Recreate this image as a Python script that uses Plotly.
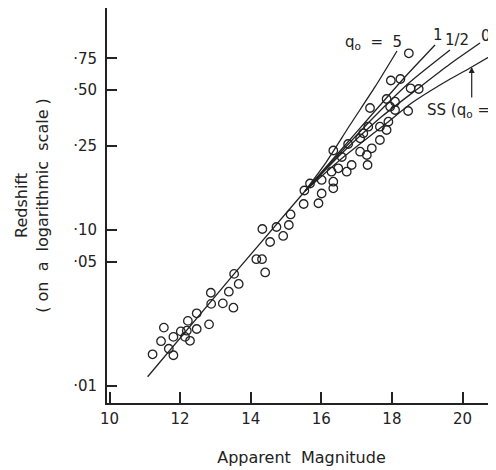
import math
import plotly.graph_objects as go

magnitude = [11.22, 11.46, 11.54, 11.68, 11.81, 11.81, 12.02, 12.14, 12.19, 12.22,
             12.28, 12.47, 12.47, 12.82, 12.87, 12.88, 13.21, 13.38, 13.51, 13.53,
             13.66, 14.16, 14.32, 14.41, 14.55, 14.33, 14.73, 14.92, 15.08, 15.13,
             15.50, 15.52, 15.68, 15.92, 16.01, 16.01, 16.29, 16.34, 16.34, 16.34,
             16.58, 16.76, 16.48, 16.72, 16.86, 17.10, 17.29, 17.43, 17.31, 17.10,
             17.33, 17.19, 17.66, 17.66, 17.85, 17.90, 17.38, 17.85, 18.09, 17.95,
             18.09, 18.46, 17.97, 18.24, 18.53, 18.76, 18.48]
redshift = [0.0159, 0.0189, 0.0226, 0.0171, 0.0157, 0.0200, 0.0215, 0.0200, 0.0217, 0.0247,
            0.0190, 0.0273, 0.0222, 0.0236, 0.0358, 0.0309, 0.0311, 0.0363, 0.0294, 0.0459,
            0.0402, 0.0557, 0.0557, 0.0468, 0.0699, 0.0830, 0.0852, 0.0757, 0.0875, 0.1005,
            0.1154, 0.1379, 0.1512, 0.1165, 0.1325, 0.1584, 0.1767, 0.1548, 0.1419, 0.2337,
            0.2145, 0.2545, 0.1848, 0.1767, 0.1930, 0.2300, 0.2202, 0.2405, 0.1930, 0.2745,
            0.3198, 0.2932, 0.2684, 0.3198, 0.3062, 0.3416, 0.4093, 0.4608, 0.4448, 0.4163,
            0.3986, 0.3934, 0.5883, 0.6000, 0.5306, 0.5257, 0.8420]

# Theoretical relations
common_mag = [11.08, 13.53, 15.54]
common_z = [0.01183, 0.0459, 0.1370]
q5_mag = [15.54, 16.105, 16.813, 17.521, 18.144]
q5_z = [0.1370, 0.1956, 0.327, 0.540, 0.868]
q1_mag = [15.54, 16.53, 17.521, 18.371, 19.221]
q1_z = [0.1370, 0.2321, 0.3934, 0.616, 0.939]
qhalf_mag = [15.54, 16.53, 17.521, 18.513, 19.646]
qhalf_z = [0.1370, 0.2262, 0.3684, 0.5767, 0.880]
q0_mag = [15.54, 16.53, 17.663, 18.796, 19.646, 20.496]
q0_z = [0.1370, 0.2202, 0.3587, 0.540, 0.731, 0.964]
ss_mag = [15.54, 16.53, 17.853, 18.561, 19.363, 20.261, 20.949]
ss_z = [0.1370, 0.2062, 0.3358, 0.4371, 0.5543, 0.7027, 0.845]

# Axis ticks
x_ticks = [10, 12, 14, 16, 18, 20]
y_tick_positions = [0.788, 0.5189, 0.2489, 0.0819, 0.05391, 0.01051]
y_tick_labels = ["·75", "·50", "·25", "·10", "·05", "·01"]

INK = "#222222"
FONT = "DejaVu Sans"

fig = go.Figure()

for xs, ys in [(common_mag, common_z), (q5_mag, q5_z), (q1_mag, q1_z),
               (qhalf_mag, qhalf_z), (q0_mag, q0_z), (ss_mag, ss_z)]:
    fig.add_trace(go.Scatter(x=xs, y=ys, mode="lines",
                             line=dict(color=INK, width=1.3, shape="spline", smoothing=0.6),
                             hoverinfo="skip", showlegend=False))

fig.add_trace(go.Scatter(x=magnitude, y=redshift, mode="markers",
                         marker=dict(symbol="circle-open", size=8.5, color=INK,
                                     line=dict(width=1.3, color=INK)),
                         showlegend=False))

lab_font = dict(family=FONT, size=15, color=INK)
ann = [
    dict(x=17.49, y=math.log10(0.977), text="q<sub>o</sub>  =  5"),
    dict(x=19.306, y=math.log10(1.072), text="1"),
    dict(x=19.836, y=math.log10(1.003), text="1/2"),
    dict(x=20.666, y=math.log10(1.058), text="0"),
]
for a in ann:
    fig.add_annotation(x=a["x"], y=a["y"], text=a["text"], showarrow=False,
                       font=lab_font, xanchor="center", yanchor="middle")
fig.add_annotation(x=18.938, y=math.log10(0.3986), text="SS (q<sub>o</sub> = -1)",
                   showarrow=False, font=lab_font, xanchor="left", yanchor="middle")
fig.add_annotation(x=20.261, y=math.log10(0.7027), text="", showarrow=True,
                   ax=0, ay=32, arrowhead=2, arrowsize=1, arrowwidth=1.2,
                   arrowcolor=INK)

# The page body adds an 8px offset, so margins compensate for it.
fig.update_layout(
    width=496, height=470,
    margin=dict(l=99, r=8, t=0, b=75, autoexpand=False),
    paper_bgcolor="white", plot_bgcolor="white",
    font=dict(family=FONT, size=15, color=INK),
    showlegend=False,
    xaxis=dict(range=[9.929, 20.949], tickvals=x_ticks, ticks="inside", ticklen=11,
               tickwidth=1.5, tickcolor=INK, showline=True, linewidth=2, linecolor=INK,
               showgrid=False, zeroline=False, ticklabelstandoff=1, automargin=False,
               tickfont=dict(family=FONT, size=15, color=INK),
               title=dict(text="Apparent  Magnitude", standoff=25,
                          font=dict(family=FONT, size=16, color=INK))),
    yaxis=dict(type="log", range=[-2.0776, 0.1847], tickvals=y_tick_positions,
               ticktext=y_tick_labels, ticks="inside", ticklen=10, tickwidth=1.5,
               tickcolor=INK, showline=True, linewidth=2, linecolor=INK,
               showgrid=False, zeroline=False, ticklabelstandoff=5, automargin=False,
               tickfont=dict(family=FONT, size=15, color=INK),
               title=dict(text="Redshift<br>( on  a  logarithmic  scale )", standoff=21,
                          font=dict(family=FONT, size=16, color=INK))),
)

fig.write_html("out.html")
